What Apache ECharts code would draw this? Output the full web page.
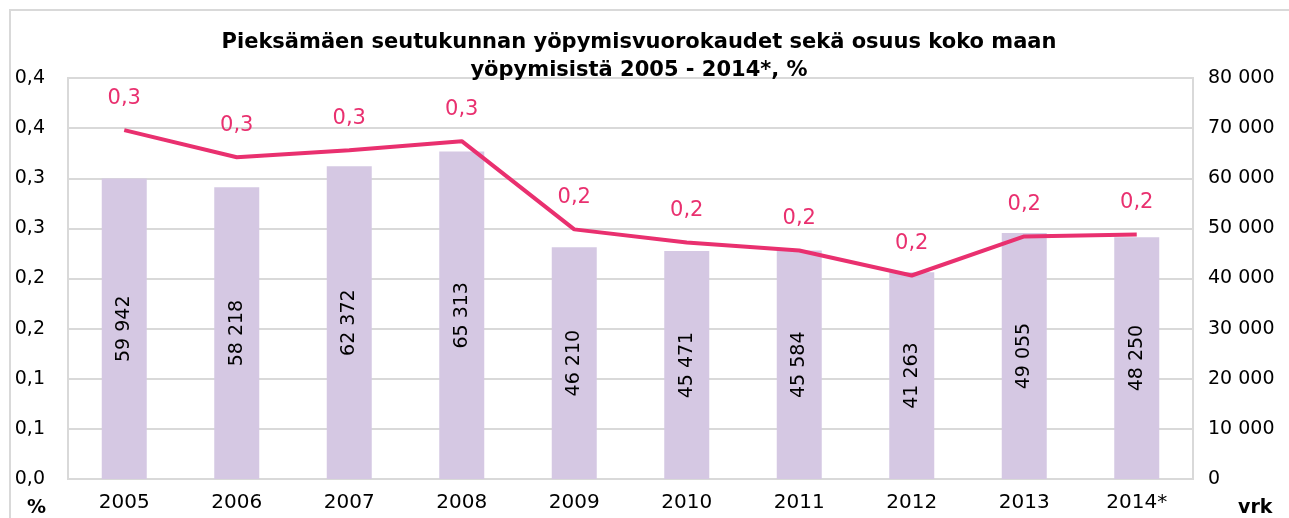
<!DOCTYPE html>
<html>
<head>
<meta charset="utf-8">
<script src="https://cdn.jsdelivr.net/npm/echarts@6/dist/echarts.min.js"></script>
<style>
  html, body { margin: 0; padding: 0; background: #fff; }
  #chart { width: 1289px; height: 518px; }
</style>
</head>
<body>
<div id="chart"></div>
<script>
// vuodet
var years = ['2005', '2006', '2007', '2008', '2009', '2010', '2011', '2012', '2013', '2014*'];
// yöpymisvuorokaudet (vrk)
var nights = [59942, 58218, 62372, 65313, 46210, 45471, 45584, 41263, 49055, 48250];
// osuus koko maan yöpymisistä (%)
var share = [0.348, 0.321, 0.328, 0.337, 0.249, 0.236, 0.228, 0.203, 0.242, 0.244];

var font = '"DejaVu Sans", "Liberation Sans", Arial, sans-serif';

// pyöristys yhteen desimaaliin, puolikkaat ylöspäin (kuten Excel)
function fi(v) {
  return (Math.round(v * 10 + 1e-9) / 10).toFixed(1).replace('.', ',');
}
function thousands(v) {
  return String(Math.round(v)).replace(/\B(?=(\d{3})+(?!\d))/g, ' ');
}

var myChart = echarts.init(document.getElementById('chart'));

var option = {
  animation: false,
  textStyle: { fontFamily: font },
  title: {
    text: 'Pieksämäen seutukunnan yöpymisvuorokaudet sekä osuus koko maan\nyöpymisistä 2005 - 2014*, %',
    left: 634,
    textAlign: 'center',
    top: 24,
    textStyle: { fontFamily: font, fontSize: 21, fontWeight: 'bold', color: '#000', lineHeight: 28 }
  },
  grid: {
    left: 68, right: 96, top: 78, bottom: 39,
    show: true, borderColor: '#d9d9d9', borderWidth: 2
  },
  xAxis: {
    type: 'category',
    data: years,
    axisTick: { show: false },
    axisLine: { lineStyle: { color: '#d9d9d9', width: 2 } },
    axisLabel: { color: '#000', fontSize: 20, margin: 14, fontFamily: font }
  },
  yAxis: [{
    type: 'value',
    min: 0,
    max: 0.4,
    interval: 0.05,
    position: 'left',
    axisLine: { show: false },
    axisTick: { show: false },
    splitLine: { lineStyle: { color: '#d9d9d9', width: 2 } },
    axisLabel: {
      color: '#000', fontSize: 19, fontFamily: font, margin: 23,
      formatter: function (v) { return fi(v); }
    }
  }, {
    type: 'value',
    min: 0,
    max: 80000,
    interval: 10000,
    position: 'right',
    axisLine: { show: false },
    axisTick: { show: false },
    splitLine: { show: false },
    axisLabel: {
      color: '#000', fontSize: 19, fontFamily: font, margin: 15,
      formatter: function (v) { return thousands(v); }
    }
  }],
  series: [{
    name: 'vrk',
    type: 'bar',
    yAxisIndex: 1,
    data: nights,
    barWidth: 45,
    itemStyle: { color: '#d5c8e3' },
    label: {
      show: true,
      position: 'inside',
      rotate: 90,
      color: '#000',
      fontSize: 19,
      fontFamily: font,
      formatter: function (p) { return thousands(p.value); }
    }
  }, {
    name: '%',
    type: 'line',
    yAxisIndex: 0,
    data: share,
    symbol: 'circle',
    symbolSize: 0,
    showSymbol: true,
    lineStyle: { color: '#e9306f', width: 4 },
    itemStyle: { color: '#e9306f' },
    label: {
      show: true,
      position: 'top',
      distance: 21,
      color: '#e9306f',
      fontSize: 21,
      fontFamily: font,
      formatter: function (p) { return fi(p.value); }
    }
  }],
  graphic: [{
    type: 'rect',
    shape: { x: 10, y: 10, width: 1290, height: 520 },
    style: { fill: 'none', stroke: '#d9d9d9', lineWidth: 2 },
    silent: true
  }, {
    type: 'text',
    left: 27,
    top: 499,
    style: { text: '%', font: 'bold 19px ' + font, fill: '#000' }
  }, {
    type: 'text',
    left: 1238,
    top: 499,
    style: { text: 'vrk', font: 'bold 19px ' + font, fill: '#000' }
  }]
};

myChart.setOption(option);
window.addEventListener('resize', function () { myChart.resize(); });
</script>
</body>
</html>
